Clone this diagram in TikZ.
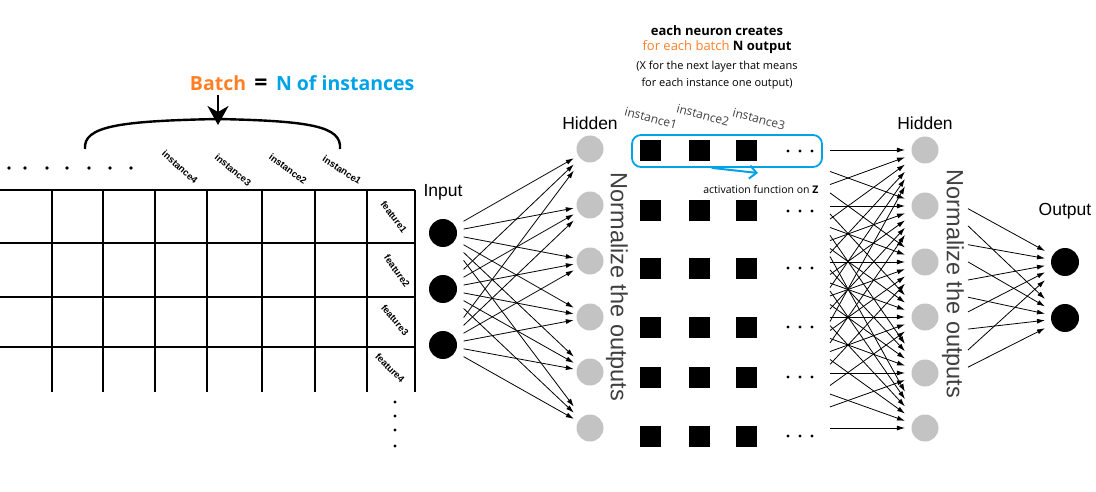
\documentclass[tikz,border=0pt]{standalone}
\usepackage{fontspec}
\setmainfont{Liberation Sans}
\newfontfamily\uifont{Open Sans}
\usetikzlibrary{arrows.meta,calc,positioning}

\definecolor{paintorange}{HTML}{FF7F27}
\definecolor{paintblue}{HTML}{00A2E8}
\definecolor{neurongray}{HTML}{C3C3C3}
\definecolor{textgray}{HTML}{404040}

\tikzset{
  neuron/.style={circle, fill=black, minimum size=28pt, inner sep=0pt},
  hidneuron/.style={neuron, fill=neurongray, minimum size=27pt},
  layername/.style={font=\fontsize{17.5}{20}\selectfont},
  normtext/.style={rotate=-90, text=textgray, font=\fontsize{23.5}{26}\selectfont},
  cell/.style={fill=black, minimum size=21pt, inner sep=0pt},
  link/.style={-{Latex[length=8pt,width=5pt]}, line width=0.8pt},
  tabletag/.style={inner sep=1pt, font=\bfseries\fontsize{9.5}{11}\selectfont},
  coltag/.style={rotate=-15, text=textgray, font=\uifont\fontsize{12}{14}\selectfont},
  bigtext/.style={inner sep=4pt, font=\uifont\bfseries\fontsize{19.5}{22}\selectfont},
}

\begin{document}
\begin{tikzpicture}[x=1pt, y=-1pt]
\useasboundingbox (0,0) rectangle (1096,492);

% the batch table
\foreach \x in {52,103,155,207,262,315,367,415}
  \draw [line width=1.1pt] (\x,190) -- (\x,392);
\foreach \y in {190,243,297,347}
  \draw [line width=1.1pt] (0,\y) -- (415,\y);
\foreach \x in {9,25,47,67,89,110,131}
  \fill (\x,168) circle (1.8);
\foreach \y in {402,416,430,446}
  \fill (395,\y) circle (1.6);

\node [tabletag, rotate=-42] (inst4) at (180,167) {instance4};
\node [tabletag, rotate=-40] (inst3) at (233,170) {instance3};
\node [tabletag, rotate=-36] (inst2) at (288,169) {instance2};
\node [tabletag, rotate=-33] (inst1) at (342,170) {instance1};
\node [tabletag, rotate=-53] (feat1) at (394,217) {feature1};
\node [tabletag, rotate=-55] (feat2) at (397,271) {feature2};
\node [tabletag, rotate=-50] (feat3) at (395,320) {feature3};
\node [tabletag, rotate=-45] (feat4) at (390,368) {feature4};

\node [bigtext, text=paintorange] (batch) at (218,83) {Batch};
\node [bigtext, font=\uifont\bfseries\fontsize{23}{24}\selectfont,
       base right=0pt of batch] (equals) {=};
\node [bigtext, text=paintblue, base right=0pt of equals] (ninst) {N of instances};

\coordinate (bracetop) at (218,119);
\draw [line width=2.4pt] (85,149) .. controls (83,126) and (120,121) .. (bracetop)
      .. controls (310,121) and (342,126) .. (340,149);
\draw [line width=2.6pt, -{Stealth[length=19pt,width=21pt,inset=6pt]}]
      (batch.south) -- ($(bracetop)+(0,6)$);

% what one neuron hands on
\node [font=\uifont\bfseries\fontsize{13}{15}\selectfont] (creates) at (717,31) {each neuron creates};
\node [font=\uifont\fontsize{13}{15}\selectfont] (perbatch) at (717,47)
      {\textcolor{paintorange}{for each batch} \textbf{N output}};
\node [font=\uifont\fontsize{11}{17}\selectfont, align=center] (means) at (717,75)
      {(X for the next layer that means\\for each instance one output)};

\node [coltag] (col1) at (651,118) {instance1};
\node [coltag] (col2) at (703,115) {instance2};
\node [coltag] (col3) at (759,119) {instance3};

\foreach \r/\y in {1/151,2/211,3/268,4/327,5/377,6/436} {
  \foreach \c/\x in {1/650,2/699,3/746}
    \node [cell] (c\r\c) at (\x,\y) {};
  \foreach \x in {788,800,812}
    \fill (\x,\y) circle (1.6);
}

\node [draw=paintblue, line width=1.8pt, rounded corners=9pt,
       minimum width=190pt, minimum height=32pt] (zbox) at (727,151) {};
\coordinate (zto) at (758,173);
\draw [paintblue, line width=2pt, -{Straight Barb[length=7pt,width=13pt]}]
      ($(zbox.south west)!0.42!(zbox.south east)$) -- (zto);
\node [font=\uifont\fontsize{10.5}{12}\selectfont, anchor=east] (actfn) at (822,190)
      {activation function on \textbf{Z}};

% the layers
\node [layername] (inlabel) at (443,192) {Input};
\node [layername] (hidlabel) at (590,123) {Hidden};
\node [layername] (hidblabel) at (925,123) {Hidden};
\node [layername] (outlabel) at (1065,211) {Output};

\foreach \i/\y in {1/233,2/289,3/345}
  \node [neuron] (in\i) at (443,\y) {};
\foreach \i/\y in {1/149,2/205,3/261,4/317,5/372,6/428}
  \node [hidneuron] (hid\i) at (590,\y) {};
\foreach \i/\y in {1/150,2/206,3/262,4/317,5/373,6/428} {
  \node [hidneuron] (hidb\i) at (925,\y) {};
  \coordinate (src\i) at (771,\y);
}
\foreach \i/\y in {1/262,2/318}
  \node [neuron] (out\i) at (1065,\y) {};
\foreach \i/\y in {1/185,2/237,3/288,4/334,5/389}
  \coordinate (tap\i) at (925,\y);

\node [normtext] (norma) at (617,287) {Normalize the outputs};
\node [normtext] (normb) at (953,284) {Normalize the outputs};

\foreach \i in {1,2,3}
  \foreach \j in {1,...,6}
    \draw [link] ($(in\i)!0.14!(hid\j)$) -- ($(in\i)!0.89!(hid\j)$);
\foreach \i in {1,...,6}
  \foreach \j in {1,...,6}
    \draw [link] ($(src\i)!0.383!(hidb\j)$) -- ($(src\i)!0.87!(hidb\j)$);
\foreach \i in {1,...,5}
  \foreach \j in {1,2}
    \draw [link] ($(tap\i)!0.307!(out\j)$) -- ($(tap\i)!0.857!(out\j)$);
\end{tikzpicture}
\end{document}
